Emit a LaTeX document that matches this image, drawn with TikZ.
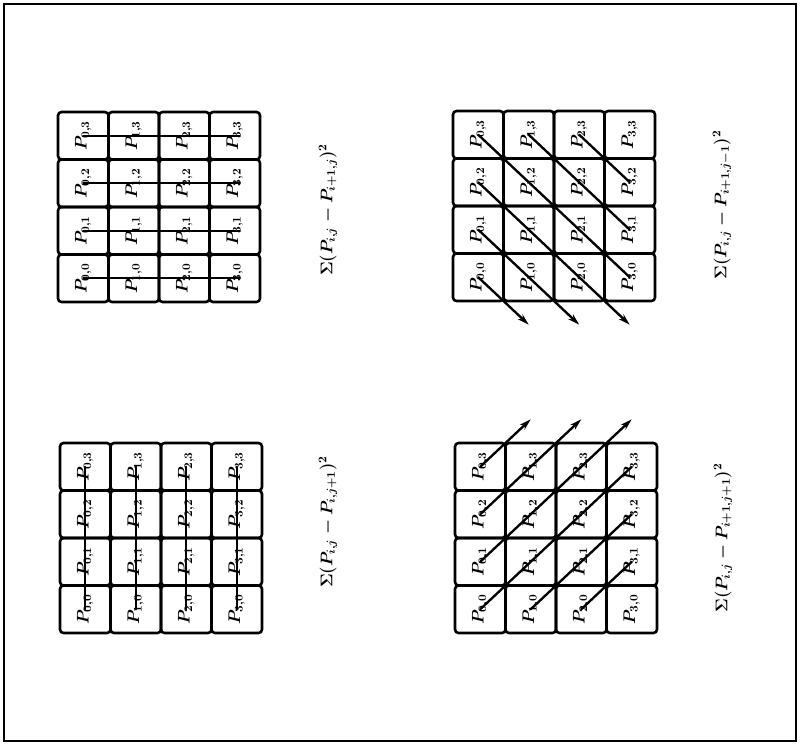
\documentclass[tikz,border=0pt]{standalone}
\usepackage{amsmath}
\usetikzlibrary{arrows.meta,calc}

% one 4x4 block of cells: name, left x, top y
\newcommand{\cellgrid}[3]{%
  \foreach \i in {0,...,3} \foreach \j in {0,...,3} {
    \draw[cell] ({#2+\i*50.5},{#3+(3-\j)*47.5}) rectangle ++(50.5,47.5);
    \node[lab] (#1-\i-\j) at ({#2+(\i+0.5)*50.5},{#3+(3.5-\j)*47.5}) {$P_{\i,\j}$};
  }}

\begin{document}
\begin{tikzpicture}[x=0.3mm, y=-0.3mm, >=Stealth,
    cell/.style={draw, line width=2.2pt, rounded corners=3pt},
    lab/.style={rotate=90, inner sep=0pt, font=\Large\boldmath},
    link/.style={line width=2pt, line cap=round},
    tip/.style={link, -{Stealth[length=3.5mm,width=2mm]}},
    sum/.style={rotate=90, inner sep=0pt, font=\Large\boldmath}]
  \useasboundingbox (0,0) rectangle (800,745);
  \draw[line width=1.2pt] (4,4) rectangle (796,741);

  % the four blocks
  \cellgrid{h}{58}{112}
  \cellgrid{d}{453}{111}
  \cellgrid{v}{60}{443}
  \cellgrid{u}{455}{443}

  % neighbours along a row
  \foreach \j in {0,...,3}
    \draw[link, shorten >=-1.5mm] (h-0-\j.center) -- (h-3-\j.center);
  % neighbours along a column
  \foreach \i in {0,...,3}
    \draw[link] (v-\i-0.center) -- (v-\i-3.center);

  % down-right diagonals
  \foreach \k in {0,1,2}
    \coordinate (dend\k) at ($(d-\k-0.center)+(50.5,47.5)$);
  \draw[tip] (d-0-0.center) -- (dend0);
  \draw[tip] (d-0-1.center) -- (d-1-0.center) -- (dend1);
  \draw[tip] (d-0-2.center) -- (d-2-0.center) -- (dend2);
  \draw[link] (d-0-3.center) -- (d-3-0.center);
  \draw[link] (d-1-3.center) -- (d-3-1.center);
  \draw[link] (d-2-3.center) -- (d-3-2.center);

  % up-right diagonals
  \foreach \k in {0,1,2}
    \coordinate (uend\k) at ($(u-\k-3.center)+(50.5,-47.5)$);
  \draw[tip] (u-0-3.center) -- (uend0);
  \draw[tip] (u-0-2.center) -- (u-1-3.center) -- (uend1);
  \draw[tip] (u-0-1.center) -- (u-2-3.center) -- (uend2);
  \draw[link] (u-0-0.center) -- (u-3-3.center);
  \draw[link] (u-1-0.center) -- (u-3-2.center);
  \draw[link] (u-2-0.center) -- (u-3-1.center);

  % sums
  \node[sum] (sh) at (328,210) {$\Sigma(P_{i,j}-P_{i+1,j})^2$};
  \node[sum] (sd) at (722,205) {$\Sigma(P_{i,j}-P_{i+1,j-1})^2$};
  \node[sum] (sv) at (328,522) {$\Sigma(P_{i,j}-P_{i,j+1})^2$};
  \node[sum] (su) at (723,538) {$\Sigma(P_{i,j}-P_{i+1,j+1})^2$};
\end{tikzpicture}
\end{document}
